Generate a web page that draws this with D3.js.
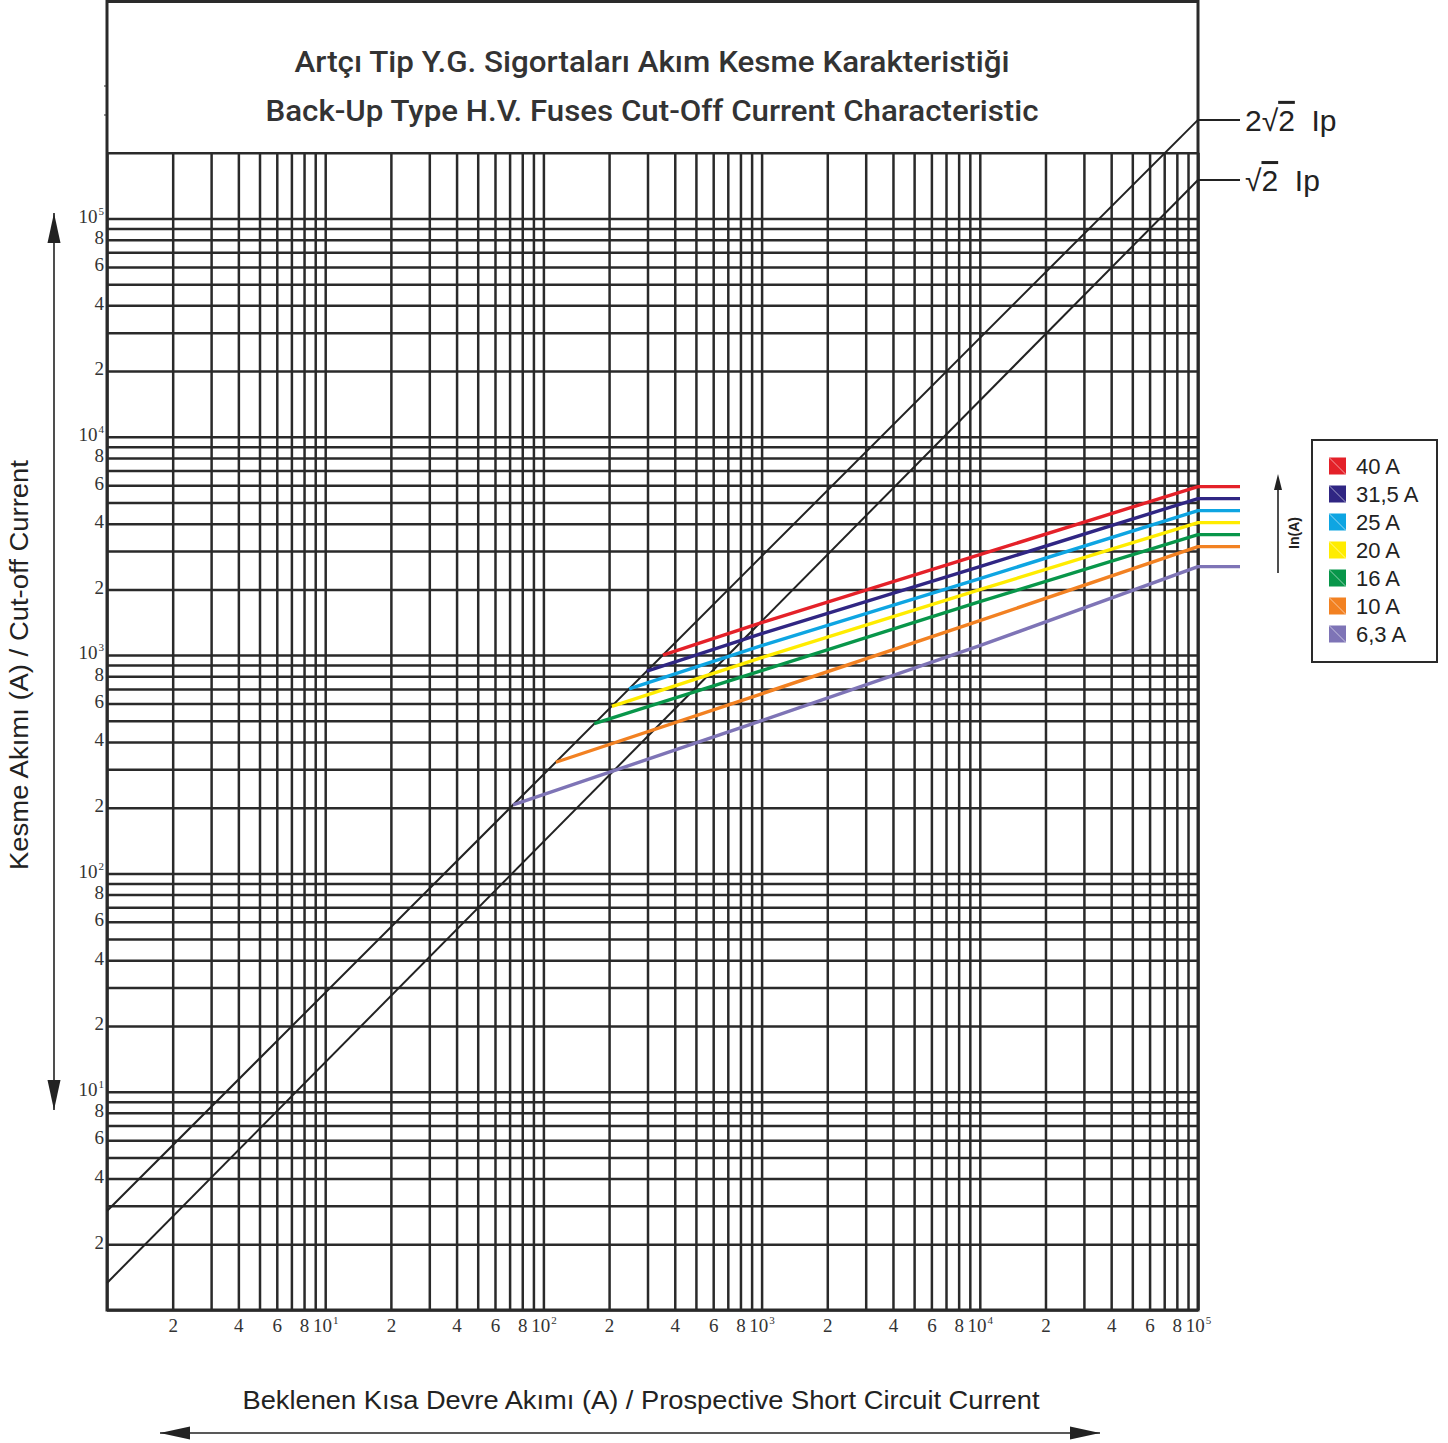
<!DOCTYPE html>
<html>
<head>
<meta charset="utf-8">
<script src="https://cdn.jsdelivr.net/npm/d3@7"></script>
<style>
    body { margin: 0; background: #fff; }
    svg { display: block; }
</style>
</head>
<body>
<svg id="chart" width="1448" height="1443"></svg>
<script>
// ---- data ----
const titleLines = [
    "Artçı Tip Y.G. Sigortaları Akım Kesme Karakteristiği",
    "Back-Up Type H.V. Fuses Cut-Off Current Characteristic"
];
const xTitle = "Beklenen Kısa Devre Akımı (A) / Prospective Short Circuit Current";
const yTitle = "Kesme Akımı (A) / Cut-off Current";

const fuseLabels = ["40 A", "31,5 A", "25 A", "20 A", "16 A", "10 A", "6,3 A"];
const fuseColors = ["#e42129", "#302683", "#0ea5e2", "#ffec00", "#08964a", "#f28122", "#7e74b6"];

// point where each curve leaves the 2√2 Ip line
const kneeX = [353, 298, 247, 206, 171, 114, 72.6];
const kneeY = [1000, 845, 700, 582, 485, 323, 206];

// cut-off current at these prospective currents
const curveX = [1000, 10000, 100000];
const cut40   = [1407, 2884, 5915];
const cut31_5 = [1253, 2542, 5212];
const cut25   = [1104, 2239, 4590];
const cut20   = [973, 1994, 4044];
const cut16   = [849, 1757, 3563];
const cut10   = [665, 1438, 3140];
const cut6_3  = [501, 1104, 2542];
const cutSeries = [cut40, cut31_5, cut25, cut20, cut16, cut10, cut6_3];

// peak lines (2√2 Ip and √2 Ip), value at 1 A and at 1e5 A as drawn
const peakAt1   = [2.84, 1.33];
const peakAtMax = [283000, 150000];
const peakLabels = [["2", "2", "  Ip"], ["", "2", "  Ip"]];

// ticks
const decades = [1, 10, 100, 1000, 10000, 100000];
const minorSteps = [2, 3, 4, 5, 6, 7, 8, 9];
const labelSteps = [2, 4, 6, 8];
const sup = ["0", "1", "2", "3", "4", "5"];

// ---- layout ----
const svg = d3.select("#chart");
const left = 107, right = 1198, bottom = 1310, decadePx = 218.3;
const ink = "#2a2a2a";
const tailLen = 42;

const x = d3.scaleLog().domain([1, 1e5]).range([left, right]);
const y = d3.scaleLog().domain([1, 1e5]).range([bottom, bottom - 5 * decadePx]);
const yTop = y(2e5);

// grid values
const xGrid = [];
decades.slice(0, 5).forEach(d => { xGrid.push(d); minorSteps.forEach(m => xGrid.push(d * m)); });
xGrid.push(1e5);
const yGrid = xGrid.concat([2e5]);

const xLabels = [];
decades.forEach((d, i) => {
    if (i > 0) xLabels.push(d);
    if (i < 5) labelSteps.forEach(m => xLabels.push(d * m));
});
const yLabels = xLabels.slice();

// vertical grid
svg.append("g")
    .attr("transform", `translate(0,${bottom})`)
    .call(d3.axisBottom(x).tickValues(xGrid).tickSize(-(bottom - yTop)).tickFormat(""))
    .call(g => g.select(".domain").remove())
    .selectAll("line").attr("stroke", ink).attr("stroke-width", 2.5);

// horizontal grid
svg.append("g")
    .attr("transform", `translate(${left},0)`)
    .call(d3.axisLeft(y).tickValues(yGrid).tickSize(-(right - left)).tickFormat(""))
    .call(g => g.select(".domain").remove())
    .selectAll("line").attr("stroke", ink).attr("stroke-width", 2.5);

// frame incl. title box
svg.append("rect")
    .attr("x", left).attr("y", 1.5)
    .attr("width", right - left).attr("height", bottom - 1.5)
    .attr("fill", "none").attr("stroke", ink).attr("stroke-width", 3);

// small marks on the title box edge
[86, 115].forEach(v => {
    svg.append("line").attr("x1", left - 3).attr("x2", left).attr("y1", v).attr("y2", v)
        .attr("stroke", ink).attr("stroke-width", 1);
});

// tick labels
function decadeLabel(sel) {
    sel.selectAll(".tick text").each(function (d) {
        const t = d3.select(this);
        const e = Math.round(Math.log10(d));
        if (Math.abs(d - Math.pow(10, e)) < 1e-6) {
            t.text("10");
            t.append("tspan").attr("dx", 1).attr("dy", -8).attr("font-size", 11).text(sup[e]);
        }
    });
}
const mantissa = d => String(Math.round(d / Math.pow(10, Math.floor(Math.log10(d) + 1e-9))));

svg.append("g")
    .attr("transform", `translate(0,${bottom})`)
    .call(d3.axisBottom(x).tickValues(xLabels).tickSize(0).tickPadding(9).tickFormat(mantissa))
    .call(g => g.select(".domain").remove())
    .call(decadeLabel)
    .selectAll(".tick text")
    .attr("font-family", "Liberation Serif, serif").attr("font-size", 19).attr("fill", "#333");

svg.append("g")
    .attr("transform", `translate(${left},0)`)
    .call(d3.axisLeft(y).tickValues(yLabels).tickSize(0).tickPadding(3).tickFormat(mantissa))
    .call(g => g.select(".domain").remove())
    .call(decadeLabel)
    .selectAll(".tick text")
    .attr("dy", "0.2em")
    .attr("font-family", "Liberation Serif, serif").attr("font-size", 19).attr("fill", "#333");

// peak lines
const peakLine = d3.line().x(d => x(d[0])).y(d => y(d[1]));
peakAt1.forEach((v0, i) => {
    const v1 = peakAtMax[i];
    svg.append("path")
        .attr("d", peakLine([[1, v0], [1e5, v1]]))
        .attr("fill", "none").attr("stroke", "#222").attr("stroke-width", 2);
    svg.append("line")
        .attr("x1", x(1e5)).attr("x2", x(1e5) + tailLen)
        .attr("y1", y(v1)).attr("y2", y(v1))
        .attr("stroke", "#222").attr("stroke-width", 2);
    const t = svg.append("text")
        .attr("x", x(1e5) + tailLen + 5).attr("y", y(v1) + 11)
        .attr("font-family", "Liberation Sans, Arial, sans-serif")
        .attr("font-size", 30).attr("fill", "#222")
        .attr("xml:space", "preserve");
    t.append("tspan").text(peakLabels[i][0] + "√");
    t.append("tspan").style("text-decoration", "overline").text(peakLabels[i][1]);
    t.append("tspan").text(peakLabels[i][2]);
});

// fuse curves
const curveLine = d3.line().x(d => x(d[0])).y(d => y(d[1]));
cutSeries.forEach((vals, i) => {
    const pts = [[kneeX[i], kneeY[i]]].concat(curveX.map((v, j) => [v, vals[j]]));
    const last = pts[pts.length - 1];
    pts.push([x.invert(x(last[0]) + tailLen), last[1]]);
    svg.append("path")
        .attr("d", curveLine(pts))
        .attr("fill", "none")
        .attr("stroke", fuseColors[i])
        .attr("stroke-width", 3.4)
        .attr("stroke-linejoin", "round");
});

// title
titleLines.forEach((s, i) => {
    svg.append("text")
        .attr("x", 652).attr("y", 72 + i * 49)
        .attr("text-anchor", "middle")
        .attr("font-family", "Roboto, sans-serif").attr("font-weight", 500)
        .attr("font-size", 29).attr("fill", "#333")
        .attr("textLength", i === 0 ? 715 : 773).attr("lengthAdjust", "spacingAndGlyphs")
        .text(s);
});

// arrows
function arrow(x1, y1, x2, y2) {
    const g = svg.append("g").attr("fill", "#222").attr("stroke", "#222");
    g.append("line").attr("x1", x1).attr("y1", y1).attr("x2", x2).attr("y2", y2).attr("stroke-width", 1.6);
    const ang = Math.atan2(y2 - y1, x2 - x1), len = 30, hw = 6.5;
    [[x2, y2, ang], [x1, y1, ang + Math.PI]].forEach(([px, py, a]) => {
        const bx = px - len * Math.cos(a), by = py - len * Math.sin(a);
        const p = d3.path();
        p.moveTo(px, py);
        p.lineTo(bx + hw * Math.sin(a), by - hw * Math.cos(a));
        p.lineTo(bx - hw * Math.sin(a), by + hw * Math.cos(a));
        p.closePath();
        g.append("path").attr("d", p.toString()).attr("stroke", "none");
    });
}
arrow(160, 1433, 1100, 1433);
arrow(54, 213, 54, 1110);

// axis titles
svg.append("text")
    .attr("x", 641).attr("y", 1409)
    .attr("text-anchor", "middle")
    .attr("font-family", "Liberation Sans, Arial, sans-serif")
    .attr("font-size", 25).attr("fill", "#222")
    .attr("textLength", 797).attr("lengthAdjust", "spacingAndGlyphs")
    .text(xTitle);

svg.append("text")
    .attr("transform", "translate(28,665) rotate(-90)")
    .attr("text-anchor", "middle")
    .attr("font-family", "Liberation Sans, Arial, sans-serif")
    .attr("font-size", 25).attr("fill", "#222")
    .attr("textLength", 410).attr("lengthAdjust", "spacingAndGlyphs")
    .text(yTitle);

// In(A) arrow
const inArrow = svg.append("g");
inArrow.append("line").attr("x1", 1278).attr("x2", 1278).attr("y1", 573).attr("y2", 485)
    .attr("stroke", "#222").attr("stroke-width", 1.6);
inArrow.append("path").attr("d", "M1278,474 L1274,490 L1282,490 Z").attr("fill", "#222");
svg.append("text")
    .attr("transform", "translate(1299,533) rotate(-90)")
    .attr("text-anchor", "middle")
    .attr("font-family", "Liberation Sans, Arial, sans-serif")
    .attr("font-size", 14).attr("font-weight", "bold").attr("fill", "#222")
    .text("In(A)");

// legend
const legend = svg.append("g").attr("transform", "translate(1312,440)");
legend.append("rect").attr("width", 125).attr("height", 222)
    .attr("fill", "#fff").attr("stroke", ink).attr("stroke-width", 2);
const item = legend.selectAll(".item").data(fuseLabels).enter().append("g")
    .attr("class", "item")
    .attr("transform", (d, i) => `translate(17,${26 + i * 28})`);
item.append("rect").attr("x", 0).attr("y", -8.5).attr("width", 17).attr("height", 17)
    .attr("fill", (d, i) => fuseColors[i]);
item.append("line").attr("x1", 0).attr("y1", -8.5).attr("x2", 17).attr("y2", 8.5)
    .attr("stroke", "#fff").attr("stroke-opacity", 0.7).attr("stroke-width", 0.8);
item.append("text").attr("x", 27).attr("y", 8)
    .attr("font-family", "Liberation Sans, Arial, sans-serif")
    .attr("font-size", 22).attr("fill", "#222")
    .text(d => d);
</script>
</body>
</html>
